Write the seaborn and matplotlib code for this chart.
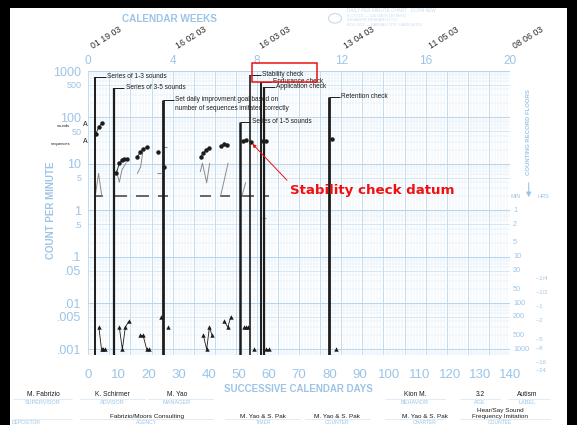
import numpy as np
import pandas as pd
import matplotlib
matplotlib.use("Agg")
import matplotlib.pyplot as plt
import seaborn as sns
from matplotlib import transforms
from matplotlib.patches import Rectangle, Circle

# ---------------- data ----------------
# sounds per minute (first phase)
sound_days = [2.5, 3.5, 4.5]
sound_rates = [44, 63, 75]

# sequences imitated correctly per minute
seq_days = [9.3, 10.3, 11.2, 11.9, 12.7,
            16.3, 17.3, 18.3, 19.4,
            23.0, 25.2,
            37.3, 38.2, 39.1, 40.0,
            44.2, 45.1, 45.9,
            51.5, 52.4,
            54.0,
            58.1, 59.0,
            81.0]
seq_rates = [6.2, 10.3, 12.1, 12.4, 12.4,
             14.2, 17.9, 20.6, 22.7,
             18.2, 8.4,
             14.2, 16.8, 19.8, 22.2,
             24.5, 26.3, 25.0,
             31.0, 32.6,
             29.0,
             31.6, 31.6,
             34.0]
seq_runs = [1, 1, 1, 1, 1,
            2, 2, 2, 2,
            3, 4,
            5, 5, 5, 5,
            6, 6, 6,
            7, 7,
            8,
            9, 9,
            10]

# errors per minute (thin grey trace)
err_days = [2.3, 3.4, 4.5,
            9.3, 10.3, 11.2, 12.6,
            16.3, 17.4, 18.1,
            37.2, 37.9, 39.3, 40.3,
            43.9, 45.4, 46.4,
            51.0, 52.2]
err_rates = [2, 6.2, 2,
             7.3, 4.0, 7.5, 10.5,
             6.2, 8.7, 18.2,
             6.8, 10.3, 3.9, 10.3,
             2, 5.3, 10.3,
             2, 3.9]
err_runs = [1, 1, 1,
            2, 2, 2, 2,
            3, 3, 3,
            4, 4, 4, 4,
            5, 5, 5,
            6, 6]
stray_days = [23.4, 25.4, 58.2]
stray_rates = [6.2, 23.0, 0.67]

# triangles near the bottom of the chart
tri_days = [3.5, 4.4, 5.0, 5.6,
            10.3, 11.3, 12.3, 13.4,
            17.3, 18.2, 19.4, 20.3,
            24.2, 26.4,
            38.2, 39.3, 40.2, 41.1,
            45.2, 46.3, 47.3,
            51.7, 52.4, 53.1,
            55.1,
            59.0, 59.9,
            82.2]
tri_rates = [0.003, 0.001, 0.001, 0.001,
             0.003, 0.001, 0.003, 0.004,
             0.002, 0.002, 0.001, 0.001,
             0.005, 0.003,
             0.002, 0.001, 0.003, 0.002,
             0.004, 0.003, 0.005,
             0.003, 0.003, 0.003,
             0.001,
             0.001, 0.001,
             0.001]
tri_runs = [1, 1, 1, 1,
            2, 2, 2, 2,
            3, 3, 3, 3,
            4, 5,
            6, 6, 6, 6,
            7, 7, 7,
            8, 8, 8,
            9,
            10, 10,
            11]

# record floor (count per minute) drawn for each recording span
floor_rate = 2
floor_start = [2.2, 8.8, 15.9, 23.0, 37.0, 43.8, 50.7, 58.0]
floor_end = [4.9, 12.8, 20.2, 26.3, 40.9, 47.0, 55.0, 59.9]

# phase change lines
phase_days = [2.2, 8.4, 24.7, 50.2, 53.7, 57.2, 58.3, 79.8]
phase_tops = [755, 423, 237, 80, 820, 589, 444, 279]
phase_labels = ["Series of 1-3 sounds",
                "Series of 3-5 sounds",
                "Set daily improvment goal based on\nnumber of sequences imitated correctly",
                "Series of 1-5 sounds",
                "Stability check",
                "Endurance check",
                "Application check",
                "Retention check"]

# aims
aim_names = ["sounds", "sequences"]
aim_rates = [72, 30]

datum_day, datum_rate = 54.0, 29.0

x_ticks = list(range(0, 141, 10))
y_ticks = [1000, 500, 100, 50, 10, 5, 1, .5, .1, .05, .01, .005, .001]
y_tick_labels = ["1000", "500", "100", "50", "10", "5", "1", ".5", ".1",
                 ".05", ".01", ".005", ".001"]
week_ticks = [0, 4, 8, 12, 16, 20]
week_dates = ["01 19 03", "16 02 03", "16 03 03", "13 04 03", "11 05 03", "08 06 03"]

floor_min = [1, 2, 5, 10, 20, 50, 100, 200, 500, 1000]
floor_hrs = ["1/4", "1/2", "1", "2", "5", "8", "16", "24"]
floor_hrs_rates = [0.0333, 0.0167, 0.00833, 0.00417, 0.00167, 0.00104, 0.00052, 0.00035]

row1_names = ["M. Fabrizio", "K. Schirmer", "M. Yao", "Kion M.", "3.2", "Autism"]
row1_roles = ["SUPERVISOR", "ADVISOR", "MANAGER", "BEHAVIOR", "AGE", "LABEL"]
row2_names = ["", "Fabrizio/Moors Consulting", "M. Yao & S. Pak", "M. Yao & S. Pak",
              "M. Yao & S. Pak", "Hear/Say Sound\nFrequency Imitation"]
row2_roles = ["DEPOSITOR", "AGENCY", "TIMER", "COUNTER", "CHARTER", "COUNTEE"]

# ---------------- style ----------------
sns.set_theme(style="white")
plt.rcParams["font.family"] = ["Liberation Sans", "DejaVu Sans"]

W, H = 577, 425
BLUE = "#9cc4e6"
GRID_MINOR = "#dcebf7"
GRID_MID = "#c9dff2"
GRID_MAJOR = "#b7d4ed"
INK = "#1c1c1c"


def fx(px):
    return px / W


def fy(py):
    return 1 - py / H


fig = plt.figure(figsize=(W / 100, H / 100), dpi=100)
fig.patch.set_facecolor("white")

ax_l, ax_r, ax_t, ax_b = 88.3, 510.0, 71.0, 355.0
ax = fig.add_axes([fx(ax_l), fy(ax_b), (ax_r - ax_l) / W, (ax_b - ax_t) / H])
ax.set_yscale("log")
ax.set_xlim(0, 140)
ymin = 10 ** (3 - (ax_b - ax_t) / 46.4)
ax.set_ylim(ymin, 1000)
for s in ax.spines.values():
    s.set_visible(False)
ax.set_facecolor("white")

# chart paper grid
for d in range(0, 141):
    major = d % 7 == 0
    ax.axvline(d, color=GRID_MAJOR if major else GRID_MINOR,
               lw=0.6 if major else 0.35, zorder=0)
for k in range(-4, 3):
    for m in range(1, 10):
        v = m * 10.0 ** k
        if ymin <= v <= 1000:
            if m == 1:
                c, w = GRID_MAJOR, 0.7
            elif m == 5:
                c, w = GRID_MID, 0.5
            else:
                c, w = GRID_MINOR, 0.35
            ax.axhline(v, color=c, lw=w, zorder=0)
ax.axhline(1000, color=GRID_MAJOR, lw=0.7, zorder=0)

# ticks
ax.set_xticks(x_ticks)
ax.set_xticklabels([str(t) for t in x_ticks])
ax.tick_params(axis="x", length=0, pad=10, labelsize=9.5, labelcolor=BLUE)
ax.set_yticks(y_ticks)
ax.yaxis.set_minor_locator(matplotlib.ticker.NullLocator())
ax.set_yticklabels(y_tick_labels)
ax.tick_params(axis="y", length=0, pad=5, labelcolor=BLUE)
for lab, txt in zip(ax.get_yticklabels(), y_tick_labels):
    lab.set_fontsize(6.5 if txt.lstrip(".").startswith("5") else 9)

sec = ax.secondary_xaxis("top", functions=(lambda d: d / 7, lambda w: w * 7))
sec.set_xticks(week_ticks)
sec.set_xticklabels([str(w) for w in week_ticks])
sec.tick_params(length=0, pad=3, labelsize=8.5, labelcolor=BLUE)
for s in sec.spines.values():
    s.set_visible(False)

# ---------------- marks ----------------
phase_lw = [1.4, 1.6, 2.0, 1.8, 1.2, 1.4, 1.6, 2.0]
ax.vlines(phase_days, ymin, phase_tops, colors=INK, lw=phase_lw, zorder=4)
ax.hlines(phase_tops, phase_days, [d + 3.6 for d in phase_days], colors=INK, lw=0.7, zorder=4)
for d, top, lab in zip(phase_days, phase_tops, phase_labels):
    ax.annotate(lab, xy=(d + 4.0, top), xytext=(0, 2.8), textcoords="offset points",
                ha="left", va="top", fontsize=4.7, color=INK, linespacing=1.35,
                annotation_clip=False, zorder=5)

ax.hlines([floor_rate] * len(floor_start), floor_start, floor_end,
          colors="#5a5a5a", lw=1.3, zorder=3)

err = pd.DataFrame({"day": err_days, "rate": err_rates, "run": err_runs})
sns.lineplot(data=err, x="day", y="rate", units="run", estimator=None,
             color="#8c8c8c", lw=0.7, ax=ax, legend=False, zorder=3)
sns.scatterplot(x=stray_days, y=stray_rates, marker="_", color="#8c8c8c",
                s=6, linewidth=0.8, ax=ax, legend=False, zorder=3)

snd = pd.DataFrame({"day": sound_days, "rate": sound_rates})
sns.lineplot(data=snd, x="day", y="rate", color=INK, lw=0.6, marker="o",
             markersize=3.2, markeredgewidth=0, ax=ax, legend=False, zorder=6)

seq = pd.DataFrame({"day": seq_days, "rate": seq_rates, "run": seq_runs})
sns.lineplot(data=seq, x="day", y="rate", units="run", estimator=None,
             color=INK, lw=0.6, marker="o", markersize=3.2, markeredgewidth=0,
             ax=ax, legend=False, zorder=6)

tri = pd.DataFrame({"day": tri_days, "rate": tri_rates, "run": tri_runs})
sns.lineplot(data=tri, x="day", y="rate", units="run", estimator=None,
             color=INK, lw=0.6, marker="^", markersize=3.2, markeredgewidth=0,
             ax=ax, legend=False, zorder=6)

ax.set_xlabel("")
ax.set_ylabel("")

# aims at the left margin
for name, r in zip(aim_names, aim_rates):
    ax.annotate(name, xy=(-6.0, r), xytext=(0, -1.5), textcoords="offset points",
                ha="right", va="center", fontsize=3.0, color=INK,
                annotation_clip=False, zorder=9)
    ax.text(-1.0, r, "A", ha="center", va="center", fontsize=5.0, color=INK,
            clip_on=False, zorder=9)

# stability check highlight
ax.add_patch(Rectangle((54.2, 589), 21.8, 1466 - 589, fill=False, edgecolor="#ee1111",
                       lw=1.1, clip_on=False, zorder=7))
ax.annotate("Stability check datum", xy=(datum_day, datum_rate), xytext=(67.0, 2.72),
            ha="left", va="center", fontsize=9.6, fontweight="bold", color="#f01010",
            family=["DejaVu Sans"], annotation_clip=False, zorder=8,
            arrowprops=dict(arrowstyle="-|>", color="#f01010", lw=0.7,
                            mutation_scale=5, shrinkA=0, shrinkB=1.5, relpos=(0, 1)))

# ---------------- chart furniture ----------------
fig.text(fx(51.5), fy(210), "COUNT PER MINUTE", rotation=90, ha="center", va="center",
         fontsize=7, fontweight="bold", color=BLUE)
fig.text(fx(298.5), fy(389), "SUCCESSIVE CALENDAR DAYS", ha="center", va="center",
         fontsize=7, fontweight="bold", color=BLUE)
fig.text(fx(170), fy(19), "CALENDAR WEEKS", ha="center", va="center",
         fontsize=7.2, fontweight="bold", color=BLUE)

date_tr = transforms.blended_transform_factory(ax.transData, fig.transFigure)
for w, lab in zip(week_ticks, week_dates):
    ax.text(w * 7 + 6.0, fy(38), lab, transform=date_tr, rotation=32, ha="center",
            va="center", fontsize=6.3, color="#2a2a2a", clip_on=False)

# header block
fig.add_artist(Circle((fx(335), fy(18.3)), 6.5 / W, transform=fig.transFigure,
                      fill=False, edgecolor="#c6dbee", lw=0.8))
header = ["DAILY PER MINUTE CHART   DCPM 6EW", "6 CYCLE \u2014 140 DAYS (20 WKS)",
          "BEHAVIOR RESEARCH CO.", "BOX 3351 \u2014 KANSAS CITY, KANS 66103"]
for i, line in enumerate(header):
    fig.text(fx(347), fy(11 + i * 4.6), line, ha="left", va="center",
             fontsize=3.3 if i == 0 else 2.8, color="#c6dbee")

# counting record floors
floor_tr = transforms.blended_transform_factory(ax.transAxes, ax.transData)
for m in floor_min:
    ax.text(1.007, 1.0 / m, str(m), transform=floor_tr, ha="left", va="center",
            fontsize=5.2, color=BLUE, clip_on=False)
for h, r in zip(floor_hrs, floor_hrs_rates):
    ax.text(1.062, r, "\u2013" + h, transform=floor_tr, ha="left", va="center",
            fontsize=4.2, color=BLUE, clip_on=False)
fig.text(fx(528.7), fy(132), "COUNTING RECORD FLOORS", rotation=90, ha="center",
         va="center", fontsize=4.3, fontweight="bold", color=BLUE)
fig.text(fx(516), fy(197), "MIN", ha="center", va="center", fontsize=4, color=BLUE)
fig.text(fx(543), fy(197), "HRS", ha="center", va="center", fontsize=4, color=BLUE)
fig.add_artist(matplotlib.patches.FancyArrowPatch(
    (fx(528.7), fy(180)), (fx(528.7), fy(200)), transform=fig.transFigure,
    arrowstyle="-|>", mutation_scale=7, color=BLUE, lw=0.8))

# identification block
row1_x = [43, 112.5, 177, 415, 480, 527]
row2_x = [26, 146.7, 263.3, 336.7, 425, 500]
for x, n, r in zip(row1_x, row1_names, row1_roles):
    fig.text(fx(x), fy(394.5), n, ha="center", va="center", fontsize=4.8, color=INK)
    fig.text(fx(x), fy(402.2), r, ha="center", va="center", fontsize=4.0, color=BLUE)
for x, n, r in zip(row2_x, row2_names, row2_roles):
    if n:
        fig.text(fx(x), fy(418.6), n, ha="center", va="bottom", fontsize=4.6,
                 color=INK, linespacing=1.05)
    fig.text(fx(x), fy(422.3), r, ha="center", va="center", fontsize=3.6, color=BLUE)
for a, b in [(13, 72), (80, 145), (148, 213), (385, 445), (460, 500), (508, 550)]:
    fig.add_artist(plt.Line2D([fx(a), fx(b)], [fy(398.5)] * 2, color="#d3e4f2", lw=0.5))
for a, b in [(13, 72), (80, 213), (225, 300), (305, 370), (385, 445), (460, 550)]:
    fig.add_artist(plt.Line2D([fx(a), fx(b)], [fy(419.2)] * 2, color="#d3e4f2", lw=0.5))

# black mount around the sheet
for rect in [(0, fy(8), 1, 8 / H), (0, 0, 10 / W, 1), (fx(567), 0, 10 / W, 1)]:
    fig.add_artist(Rectangle(rect[:2], rect[2], rect[3], transform=fig.transFigure,
                             facecolor="black", edgecolor="none", zorder=10))

fig.savefig("out.png", dpi=100)
